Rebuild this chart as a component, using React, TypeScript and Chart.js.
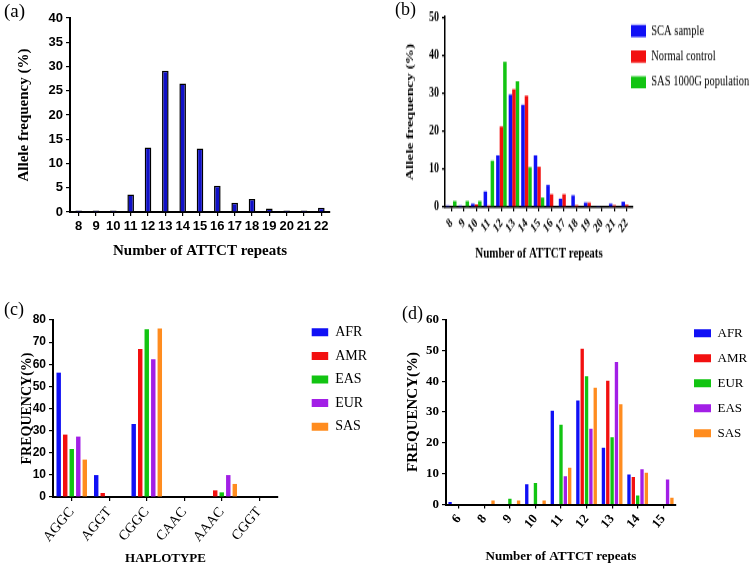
import React, { useEffect, useRef } from 'react';
import { Chart, registerables } from 'chart.js';

Chart.register(...registerables);

const SERIF = "'Liberation Serif', 'Times New Roman', Times, serif";
const SANS = "'Liberation Sans', Arial, Helvetica, sans-serif";
Chart.defaults.font.family = SERIF;

// ---------- Panel (a) ----------
const repeatsA = ['8', '9', '10', '11', '12', '13', '14', '15', '16', '17', '18', '19', '20', '21', '22'];
const alleleFreqA = [0.3, 0.3, 0.3, 3.6, 13.3, 29.1, 26.5, 13.1, 5.4, 1.9, 2.7, 0.7, 0.3, 0.3, 0.9];

// ---------- Panel (b) ----------
const repeatsB = ['8', '9', '10', '11', '12', '13', '14', '15', '16', '17', '18', '19', '20', '21', '22'];
const scaSample = [0.4, 0.4, 0.9, 4.1, 13.6, 29.6, 26.9, 13.6, 5.8, 2.2, 3.1, 1.2, 0.3, 0.9, 1.4];
const normalControl = [0, 0, 0.7, 0.4, 21.2, 31.0, 29.3, 10.6, 3.4, 3.4, 0.5, 1.2, 0, 0.5, 0.6];
const sas1000G = [1.6, 1.6, 1.6, 12.2, 38.2, 33.1, 10.5, 2.5, 0, 0, 0, 0, 0, 0, 0];
const legendB = ['SCA sample', 'Normal control', 'SAS 1000G population'];

// ---------- Panel (c) ----------
const haplotypes = ['AGGC', 'AGGT', 'CGGC', 'CAAC', 'AAAC', 'CGGT'];
const hapAFR = [56.2, 9.9, 33.0, 0, 0, 0];
const hapAMR = [28.2, 1.8, 66.9, 0, 3.0, 0];
const hapEAS = [21.7, 0, 75.8, 0, 2.1, 0];
const hapEUR = [27.3, 0, 62.3, 0, 9.9, 0];
const hapSAS = [16.9, 0, 76.2, 0, 5.9, 0];
const popsC = ['AFR', 'AMR', 'EAS', 'EUR', 'SAS'];

// ---------- Panel (d) ----------
const repeatsD = ['6', '8', '9', '10', '11', '12', '13', '14', '15'];
const dAFR = [0.8, 0, 0, 6.6, 30.4, 33.7, 18.4, 9.7, 0];
const dAMR = [0, 0, 0, 0, 0, 50.5, 40.1, 8.9, 0];
const dEUR = [0, 0, 1.9, 7.0, 25.9, 41.6, 21.8, 2.9, 0];
const dEAS = [0, 0, 0, 0, 9.2, 24.6, 46.2, 11.4, 8.1];
const dSAS = [0, 1.3, 1.3, 1.3, 11.9, 37.9, 32.5, 10.3, 2.2];
const popsD = ['AFR', 'AMR', 'EUR', 'EAS', 'SAS'];

const BLUE = '#1010f5';
const RED = '#f21010';
const GREEN = '#12c412';
const PURPLE = '#a21fe6';
const ORANGE = '#ff8c1f';

function legendAt(x: number, y: number, pad: number) {
  return {
    id: 'legendAt',
    afterLayout(chart: any) {
      const lg = chart.legend;
      if (!lg) return;
      lg.left = x - pad;
      lg.top = y - pad;
      lg.right = chart.width;
      lg.bottom = chart.height;
      lg.width = lg.right - lg.left;
      lg.height = lg.bottom - lg.top;
    },
  };
}

interface PanelOpts {
  labels: string[];
  datasets: any[];
  pad: { left: number; top: number; right: number; bottom: number };
  yW: number;
  xH: number;
  yMax: number;
  yStep: number;
  yTickFont: any;
  xTickFont: any;
  yTitle: string;
  yTitleFont: any;
  yTitlePad: number;
  xTitle: string;
  xTitleFont: any;
  xTitlePad: number;
  xRot: number;
  yTickLen: number;
  xTickLen: number;
  axisWidth: number;
  legend?: { x: number; y: number; font: any; boxWidth: number; boxHeight: number; padding: number };
}

function makeConfig(o: PanelOpts): any {
  const plugins: any[] = [];
  if (o.legend) plugins.push(legendAt(o.legend.x, o.legend.y, o.legend.padding));
  return {
    type: 'bar',
    data: { labels: o.labels, datasets: o.datasets },
    options: {
      responsive: false,
      animation: false,
      devicePixelRatio: 1,
      layout: { padding: o.pad },
      plugins: {
        legend: o.legend
          ? {
              display: true,
              position: 'chartArea',
              align: 'start',
              labels: {
                font: o.legend.font,
                color: '#000',
                boxWidth: o.legend.boxWidth,
                boxHeight: o.legend.boxHeight,
                padding: o.legend.padding,
              },
            }
          : { display: false },
        tooltip: { enabled: false },
        title: { display: false },
      },
      scales: {
        x: {
          ticks: {
            font: o.xTickFont,
            color: '#000',
            autoSkip: false,
            minRotation: o.xRot,
            maxRotation: o.xRot,
            padding: 3,
          },
          grid: {
            offset: false,
            drawOnChartArea: false,
            drawTicks: true,
            tickLength: o.xTickLen,
            color: '#000',
            lineWidth: 1.2,
          },
          border: { display: true, color: '#000', width: o.axisWidth },
          title: {
            display: true,
            text: o.xTitle,
            font: o.xTitleFont,
            color: '#000',
            padding: { top: 0, bottom: o.xTitlePad },
          },
          afterFit: (s: any) => {
            s.height = o.xH;
          },
        },
        y: {
          min: 0,
          max: o.yMax,
          ticks: { stepSize: o.yStep, font: o.yTickFont, color: '#000', padding: 3 },
          grid: {
            drawOnChartArea: false,
            drawTicks: true,
            tickLength: o.yTickLen,
            color: '#000',
            lineWidth: 1.2,
          },
          border: { display: true, color: '#000', width: o.axisWidth },
          title: {
            display: true,
            text: o.yTitle,
            font: o.yTitleFont,
            color: '#000',
            padding: { top: o.yTitlePad, bottom: 0 },
          },
          afterFit: (s: any) => {
            s.width = o.yW;
          },
        },
      },
    },
    plugins,
  };
}

function configA() {
  return makeConfig({
    labels: repeatsA,
    datasets: [
      {
        label: 'Allele frequency',
        data: alleleFreqA,
        backgroundColor: '#1010c8',
        borderColor: '#000',
        borderWidth: 1.5,
        barPercentage: 0.38,
        categoryPercentage: 1,
      },
    ],
    pad: { left: 0, top: 18, right: 46, bottom: 0 },
    yW: 70,
    xH: 78,
    yMax: 40,
    yStep: 5,
    yTickFont: { family: SANS, size: 13, weight: 'bold' },
    xTickFont: { family: SANS, size: 13, weight: 'bold' },
    yTitle: 'Allele frequency (%)',
    yTitleFont: { family: SERIF, size: 15, weight: 'bold' },
    yTitlePad: 15,
    xTitle: 'Number of ATTCT repeats',
    xTitleFont: { family: SERIF, size: 15, weight: 'bold' },
    xTitlePad: 30,
    xRot: 0,
    yTickLen: 4,
    xTickLen: 4,
    axisWidth: 2,
  });
}

function configB() {
  const ds = (label: string, data: number[], color: string) => ({
    label,
    data,
    backgroundColor: color,
    borderWidth: 0,
    barPercentage: 1,
    categoryPercentage: 0.84,
  });
  return makeConfig({
    labels: repeatsB,
    datasets: [
      ds(legendB[0], scaSample, BLUE),
      ds(legendB[1], normalControl, RED),
      ds(legendB[2], sas1000G, GREEN),
    ],
    pad: { left: 0, top: 12.1, right: 119, bottom: 0 },
    yW: 69,
    xH: 59.1,
    yMax: 50,
    yStep: 10,
    yTickFont: { family: SERIF, size: 10, weight: 'bold' },
    xTickFont: { family: SERIF, size: 9.5, weight: 'bold' },
    yTitle: 'Allele frequency (%)',
    yTitleFont: { family: SERIF, size: 11, weight: 'bold' },
    yTitlePad: 27.9,
    xTitle: 'Number of ATTCT repeats',
    xTitleFont: { family: SERIF, size: 11, weight: 'bold' },
    xTitlePad: 19.7,
    xRot: 45,
    yTickLen: 3,
    xTickLen: 3,
    axisWidth: 1.5,
    legend: {
      x: 255,
      y: 16.85,
      font: { family: SERIF, size: 10.5 },
      boxWidth: 15,
      boxHeight: 8.6,
      padding: 7.8,
    },
  });
}

function configC() {
  const colors = [BLUE, RED, GREEN, PURPLE, ORANGE];
  const values = [hapAFR, hapAMR, hapEAS, hapEUR, hapSAS];
  return makeConfig({
    labels: haplotypes,
    datasets: popsC.map((p, i) => ({
      label: p,
      data: values[i],
      backgroundColor: colors[i],
      borderWidth: 0,
      barPercentage: 0.68,
      categoryPercentage: 0.87,
    })),
    pad: { left: 0, top: 30, right: 98, bottom: 0 },
    yW: 53,
    xH: 70,
    yMax: 80,
    yStep: 10,
    yTickFont: { family: SANS, size: 12, weight: 'bold' },
    xTickFont: { family: SERIF, size: 14 },
    yTitle: 'FREQUENCY(%)',
    yTitleFont: { family: SERIF, size: 14, weight: 'bold' },
    yTitlePad: 19,
    xTitle: 'HAPLOTYPE',
    xTitleFont: { family: SERIF, size: 13, weight: 'bold' },
    xTitlePad: 1,
    xRot: 50,
    yTickLen: 4,
    xTickLen: 4,
    axisWidth: 2,
    legend: {
      x: 311.7,
      y: 35.3,
      font: { family: SERIF, size: 14 },
      boxWidth: 16.5,
      boxHeight: 8,
      padding: 9.6,
    },
  });
}

function configD() {
  const colors = [BLUE, RED, GREEN, PURPLE, ORANGE];
  const values = [dAFR, dAMR, dEUR, dEAS, dSAS];
  return makeConfig({
    labels: repeatsD,
    datasets: popsD.map((p, i) => ({
      label: p,
      data: values[i],
      backgroundColor: colors[i],
      borderWidth: 0,
      barPercentage: 0.77,
      categoryPercentage: 0.85,
    })),
    pad: { left: 0, top: 29.5, right: 76, bottom: 0 },
    yW: 70,
    xH: 62.5,
    yMax: 60,
    yStep: 10,
    yTickFont: { family: SERIF, size: 13, weight: 'bold' },
    xTickFont: { family: SERIF, size: 13, weight: 'bold' },
    yTitle: 'FREQUENCY(%)',
    yTitleFont: { family: SERIF, size: 15, weight: 'bold' },
    yTitlePad: 27.7,
    xTitle: 'Number of ATTCT repeats',
    xTitleFont: { family: SERIF, size: 13, weight: 'bold' },
    xTitlePad: 2.5,
    xRot: 50,
    yTickLen: 4,
    xTickLen: 4,
    axisWidth: 2,
    legend: {
      x: 318,
      y: 36.8,
      font: { family: SERIF, size: 13 },
      boxWidth: 17,
      boxHeight: 8,
      padding: 12,
    },
  });
}

function Panel(props: {
  make: () => any;
  left: number;
  top: number;
  width: number;
  height: number;
  scaleY?: number;
}) {
  const ref = useRef<HTMLCanvasElement | null>(null);
  useEffect(() => {
    if (!ref.current) return;
    const chart = new Chart(ref.current, props.make());
    return () => chart.destroy();
  }, []);
  const style: any = {
    position: 'absolute',
    left: props.left,
    top: props.top,
    width: props.width,
    height: props.height,
  };
  if (props.scaleY) {
    style.transform = `scaleY(${props.scaleY})`;
    style.transformOrigin = '0 0';
  }
  return (
    <div style={style}>
      <canvas ref={ref} width={props.width} height={props.height} />
    </div>
  );
}

const labelStyle = (left: number, top: number, size: number): React.CSSProperties => ({
  position: 'absolute',
  left,
  top,
  fontFamily: SERIF,
  fontSize: size,
  lineHeight: 1,
  color: '#000',
});

export default function App() {
  return (
    <div
      style={{
        position: 'absolute',
        left: 0,
        top: 0,
        width: 752,
        height: 567,
        background: '#fff',
        overflow: 'hidden',
      }}
    >
      <Panel make={configA} left={0} top={0} width={376} height={290} />
      <Panel make={configB} left={376} top={0} width={376} height={207} scaleY={1.4} />
      <Panel make={configC} left={0} top={290} width={376} height={277} />
      <Panel make={configD} left={376} top={290} width={376} height={277} />
      <div style={labelStyle(4, 1, 19)}>(a)</div>
      <div style={labelStyle(395, 0, 18)}>(b)</div>
      <div style={labelStyle(4, 300, 18)}>(c)</div>
      <div style={labelStyle(402, 304, 18)}>(d)</div>
    </div>
  );
}
